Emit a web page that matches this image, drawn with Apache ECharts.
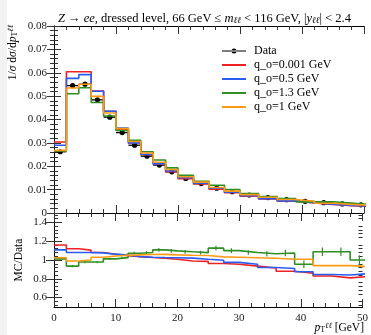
<!DOCTYPE html>
<html>
<head>
<meta charset="utf-8">
<script src="https://cdn.jsdelivr.net/npm/echarts@6/dist/echarts.min.js"></script>
<style>
  html, body { margin: 0; padding: 0; background: #fff; }
  #chart { width: 371px; height: 335px; }
</style>
</head>
<body>
<div id="chart"></div>
<script>
// bin edges of pT(ll) in GeV (last bin runs past the axis end)
const binEdges = [0, 2, 4, 6, 8, 10, 12, 14, 16, 18, 20, 22.5, 25, 27.5, 30, 33, 36, 39, 42, 45, 48, 51];

const dataValues = [0.0262, 0.0545, 0.0551, 0.0484, 0.0410, 0.0344, 0.0290, 0.0243, 0.0205, 0.0176, 0.0148,
  0.0126, 0.0106, 0.0091, 0.0077, 0.0066, 0.0057, 0.0050, 0.0044, 0.0039, 0.0035];

const mcRed = [0.0304, 0.0604, 0.0604, 0.0522, 0.0435, 0.0359, 0.0300, 0.0249, 0.0209, 0.0177, 0.0147,
  0.0124, 0.0102, 0.0087, 0.0072, 0.0060, 0.0050, 0.0043, 0.00365, 0.00316, 0.00289];
const mcBlue = [0.0290, 0.0576, 0.0592, 0.0521, 0.0435, 0.0363, 0.0300, 0.0250, 0.0210, 0.0180, 0.0151,
  0.0127, 0.0106, 0.0089, 0.00735, 0.00607, 0.00519, 0.00438, 0.00372, 0.00328, 0.00299];
const mcGreen = [0.0265, 0.0510, 0.0536, 0.0473, 0.0415, 0.0353, 0.0311, 0.0262, 0.0227, 0.0193, 0.0161,
  0.0136, 0.0119, 0.0100, 0.00832, 0.00704, 0.00613, 0.00477, 0.00478, 0.00424, 0.0035];
const mcOrange = [0.0268, 0.0535, 0.0551, 0.0499, 0.0428, 0.0361, 0.0306, 0.0257, 0.0217, 0.0186, 0.0155,
  0.0132, 0.0109, 0.00937, 0.00788, 0.00672, 0.00575, 0.00504, 0.00414, 0.00367, 0.00326];

// MC/Data ratios
const ratioRed = [1.16, 1.12, 1.105, 1.08, 1.062, 1.045, 1.036, 1.026, 1.018, 1.008, 0.99,
  0.985, 0.962, 0.955, 0.935, 0.915, 0.88, 0.86, 0.83, 0.81, 0.825];
const ratioBlue = [1.108, 1.08, 1.08, 1.076, 1.062, 1.054, 1.036, 1.03, 1.026, 1.024, 1.02,
  1.008, 0.997, 0.975, 0.955, 0.92, 0.91, 0.875, 0.845, 0.84, 0.855];
const ratioGreen = [1.012, 0.935, 0.978, 0.978, 1.012, 1.025, 1.072, 1.08, 1.108, 1.097, 1.087,
  1.078, 1.126, 1.1, 1.08, 1.066, 1.075, 0.954, 1.087, 1.087, 1.0];
const ratioOrange = [1.024, 0.99, 1.0, 1.03, 1.043, 1.05, 1.055, 1.058, 1.06, 1.054, 1.05,
  1.048, 1.033, 1.03, 1.024, 1.018, 1.008, 1.008, 0.94, 0.94, 0.93];
const ratioGreenErr = [0.012, 0.012, 0.012, 0.012, 0.012, 0.012, 0.015, 0.015, 0.02, 0.02, 0.02,
  0.02, 0.025, 0.025, 0.025, 0.03, 0.035, 0.04, 0.045, 0.045, 0.05];

const seriesNames = ['Data', 'q_o=0.001 GeV', 'q_o=0.5 GeV', 'q_o=1.3 GeV', 'q_o=1 GeV'];
const colors = ['#000000', '#ee2222', '#2a5cf2', '#2f8f24', '#ff9a14'];

const ratioMajorTicks = [0.6, 0.8, 1, 1.2, 1.4];
const ratioMinorTicks = [0.52, 0.56, 0.64, 0.68, 0.72, 0.76, 0.84, 0.88, 0.92, 0.96,
  1.04, 1.08, 1.12, 1.16, 1.24, 1.28, 1.32, 1.36, 1.44, 1.48];

const serif = '"Liberation Serif", "DejaVu Serif", serif';
const tickColor = '#333';

// step points for a histogram
function steps(vals) {
  const pts = vals.map((v, i) => [binEdges[i], v]);
  pts.push([binEdges[vals.length], vals[vals.length - 1]]);
  return pts;
}

function stepSeries(name, vals, color, idx) {
  return {
    name: name,
    type: 'line',
    step: 'end',
    symbol: 'none',
    xAxisIndex: idx,
    yAxisIndex: idx,
    lineStyle: { color: color, width: 1.6 },
    itemStyle: { color: color },
    data: steps(vals),
    animation: false
  };
}

function xAxisFor(grid, pos, showLabels) {
  return {
    type: 'value', gridIndex: grid, position: pos, min: 0, max: 50, interval: 10,
    axisLine: { show: true, onZero: false, lineStyle: { color: '#000', width: 1 } },
    axisTick: { show: true, inside: true, length: 8, lineStyle: { color: tickColor } },
    minorTick: { show: true, splitNumber: 5, length: 4, lineStyle: { color: tickColor } },
    axisLabel: { show: showLabels, color: '#222', fontFamily: serif, fontSize: 11, margin: 6 },
    splitLine: { show: false }
  };
}

const legendText = { fontFamily: serif, fontSize: 12, color: '#000', lineHeight: 12, padding: [0, 0, 0, 3] };

const chart = echarts.init(document.getElementById('chart'), null, { renderer: 'canvas' });

const option = {
  backgroundColor: '#fff',
  animation: false,
  title: {
    text: '{i|Z} → {i|ee}, dressed level, 66 GeV ≤ {i|m}{s|ℓℓ} < 116 GeV, |{i|y}{s|ℓℓ}| < 2.4',
    left: 53,
    top: 7,
    textStyle: {
      fontFamily: serif, fontSize: 12.5, fontWeight: 'normal', color: '#000',
      rich: {
        i: { fontFamily: serif, fontSize: 12.5, fontStyle: 'italic', color: '#000' },
        s: { fontFamily: serif, fontSize: 9, fontStyle: 'italic', color: '#000', verticalAlign: 'bottom' }
      }
    }
  },
  legend: [
    {
      orient: 'vertical',
      left: 217,
      top: 40,
      itemWidth: 24,
      itemHeight: 5,
      selectedMode: false,
      textStyle: legendText,
      data: [
        { name: seriesNames[0], icon: 'path://M0,2H24V3H0Z M9.5,2.5A2.5,2.5,0,1,0,14.5,2.5A2.5,2.5,0,1,0,9.5,2.5Z',
          itemStyle: { color: '#000' } }
      ]
    },
    {
      orient: 'vertical',
      left: 217,
      top: 54,
      itemWidth: 24,
      itemHeight: 2,
      itemGap: 2,
      icon: 'rect',
      selectedMode: false,
      textStyle: legendText,
      data: [seriesNames[1], seriesNames[2], seriesNames[3], seriesNames[4]]
    }
  ],
  grid: [
    { left: 54, right: 7, top: 26, height: 187 },
    { left: 54, right: 7, top: 213, height: 94 }
  ],
  xAxis: [
    xAxisFor(0, 'bottom', false),
    xAxisFor(0, 'top', false),
    xAxisFor(1, 'bottom', true),
    xAxisFor(1, 'top', false)
  ],
  yAxis: [
    {
      type: 'value', gridIndex: 0, position: 'left', min: 0, max: 0.08, interval: 0.01,
      axisLine: { show: true, lineStyle: { color: '#000' } },
      axisTick: { show: true, inside: true, length: 7, lineStyle: { color: tickColor } },
      minorTick: { show: true, splitNumber: 5, length: 4, lineStyle: { color: tickColor } },
      axisLabel: {
        color: '#222', fontFamily: serif, fontSize: 11, margin: 7,
        formatter: v => (v === 0 ? '0' : v.toFixed(2))
      },
      splitLine: { show: false }
    },
    {
      type: 'value', gridIndex: 0, position: 'right', min: 0, max: 0.08, interval: 0.01,
      axisLine: { show: true, lineStyle: { color: '#000' } },
      axisTick: { show: true, inside: true, length: 7, lineStyle: { color: tickColor } },
      minorTick: { show: true, splitNumber: 5, length: 4, lineStyle: { color: tickColor } },
      axisLabel: { show: false },
      splitLine: { show: false }
    },
    {
      type: 'value', gridIndex: 1, position: 'left', min: 0.5, max: 1.5,
      axisLine: { show: true, lineStyle: { color: '#000' } },
      axisTick: { show: true, inside: true, length: 8, customValues: ratioMajorTicks, lineStyle: { color: tickColor } },
      axisLabel: {
        color: '#222', fontFamily: serif, fontSize: 11, margin: 7,
        customValues: ratioMajorTicks,
        formatter: v => String(Math.round(v * 10) / 10)
      },
      splitLine: { show: false }
    },
    {
      type: 'value', gridIndex: 1, position: 'right', min: 0.5, max: 1.5,
      axisLine: { show: true, lineStyle: { color: '#000' } },
      axisTick: { show: true, inside: true, length: 8, customValues: ratioMajorTicks, lineStyle: { color: tickColor } },
      axisLabel: { show: false },
      splitLine: { show: false }
    },
    {
      type: 'value', gridIndex: 1, position: 'left', min: 0.5, max: 1.5,
      axisLine: { show: false },
      axisTick: { show: true, inside: true, length: 4, customValues: ratioMinorTicks, lineStyle: { color: tickColor } },
      axisLabel: { show: false },
      splitLine: { show: false }
    },
    {
      type: 'value', gridIndex: 1, position: 'right', min: 0.5, max: 1.5,
      axisLine: { show: false },
      axisTick: { show: true, inside: true, length: 4, customValues: ratioMinorTicks, lineStyle: { color: tickColor } },
      axisLabel: { show: false },
      splitLine: { show: false }
    }
  ],
  graphic: [
    { type: 'rect', z: -10, shape: { x: 0, y: 0, width: 7, height: 335 }, style: { fill: '#f3f3f3' } },
    {
      type: 'text', x: 13, y: 25, rotation: Math.PI / 2,
      style: {
        text: '1/{i|σ} d{i|σ}/d{i|p}{s|T}{u|ℓℓ}',
        font: '11.5px ' + serif, fill: '#000', align: 'right', verticalAlign: 'middle',
        rich: {
          i: { fontFamily: serif, fontSize: 11.5, fontStyle: 'italic', fill: '#000' },
          s: { fontFamily: serif, fontSize: 8, fill: '#000', verticalAlign: 'bottom' },
          u: { fontFamily: serif, fontSize: 8, fontStyle: 'italic', fill: '#000', verticalAlign: 'top' }
        }
      }
    },
    {
      type: 'text', x: 19, y: 260, rotation: Math.PI / 2,
      style: { text: 'MC/Data', font: '11.5px ' + serif, fill: '#000', align: 'center', verticalAlign: 'middle' }
    },
    {
      type: 'text', x: 364, y: 328,
      style: {
        text: '{i|p}{s|T}{u|ℓℓ} [GeV]',
        font: '11.5px ' + serif, fill: '#000', align: 'right', verticalAlign: 'middle',
        rich: {
          i: { fontFamily: serif, fontSize: 11.5, fontStyle: 'italic', fill: '#000' },
          s: { fontFamily: serif, fontSize: 8, fill: '#000', verticalAlign: 'bottom' },
          u: { fontFamily: serif, fontSize: 8, fontStyle: 'italic', fill: '#000', verticalAlign: 'top' }
        }
      }
    }
  ],
  series: [
    stepSeries(seriesNames[1], mcRed, colors[1], 0),
    stepSeries(seriesNames[2], mcBlue, colors[2], 0),
    stepSeries(seriesNames[3], mcGreen, colors[3], 0),
    stepSeries(seriesNames[4], mcOrange, colors[4], 0),
    {
      name: seriesNames[0],
      type: 'custom',
      xAxisIndex: 0,
      yAxisIndex: 0,
      clip: true,
      itemStyle: { color: '#000' },
      encode: { x: [0, 1], y: 2 },
      data: dataValues.map((v, i) => [binEdges[i], binEdges[i + 1], v]),
      renderItem: (params, api) => {
        const lo = api.coord([api.value(0), api.value(2)]);
        const hi = api.coord([api.value(1), api.value(2)]);
        const c = api.coord([(api.value(0) + api.value(1)) / 2, api.value(2)]);
        return {
          type: 'group',
          children: [
            { type: 'line', shape: { x1: lo[0], y1: lo[1], x2: hi[0], y2: hi[1] }, style: { stroke: '#000', lineWidth: 1.3 } },
            { type: 'circle', shape: { cx: c[0], cy: c[1], r: 2.6 }, style: { fill: '#000' } }
          ]
        };
      }
    },
    stepSeries('r_red', ratioRed, colors[1], 2),
    stepSeries('r_blue', ratioBlue, colors[2], 2),
    stepSeries('r_green', ratioGreen, colors[3], 2),
    stepSeries('r_orange', ratioOrange, colors[4], 2),
    {
      name: 'r_green_err',
      type: 'custom',
      xAxisIndex: 2,
      yAxisIndex: 2,
      clip: true,
      encode: { x: 0, y: [1, 2] },
      data: ratioGreen.map((r, i) => [(binEdges[i] + binEdges[i + 1]) / 2, r - ratioGreenErr[i], r + ratioGreenErr[i]]),
      renderItem: (params, api) => {
        const a = api.coord([api.value(0), api.value(1)]);
        const b = api.coord([api.value(0), api.value(2)]);
        return { type: 'line', shape: { x1: a[0], y1: a[1], x2: b[0], y2: b[1] }, style: { stroke: colors[3], lineWidth: 1.2 } };
      }
    }
  ]
};

chart.setOption(option);
</script>
</body>
</html>
